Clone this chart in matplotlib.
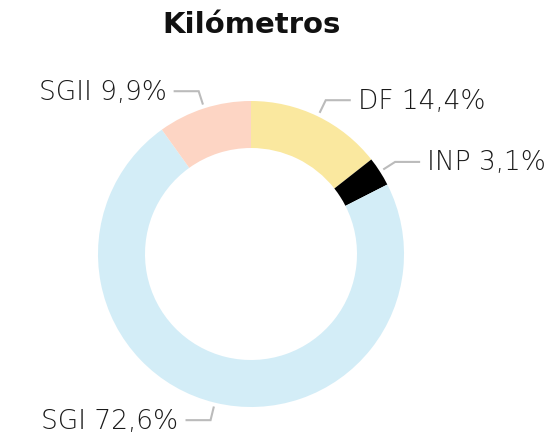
import numpy as np
import matplotlib.pyplot as plt

# Data
labels = ['DF', 'INP', 'SGI', 'SGII']
shares = [14.4, 3.1, 72.6, 9.9]
colors = ['#FAE89F', '#000000', '#D3EDF7', '#FDD5C4']

# Geometry (pixels)
W, H = 553, 439
cx, cy = 251, 255
r_out = 153
ring = 47

fig = plt.figure(figsize=(W / 100, H / 100), dpi=100)
ax = fig.add_axes([0, 0, 1, 1])

ax.pie(shares, colors=colors, startangle=90, counterclock=False,
       center=(cx, H - cy), radius=r_out, frame=True,
       wedgeprops=dict(width=ring, linewidth=0))
ax.set_xlim(0, W)
ax.set_ylim(0, H)
ax.set_aspect('equal')
ax.axis('off')

# Leader lines and labels
start = 0.0
for lab, val in zip(labels, shares):
    mid = 90 - 360 * (start + val / 2) / 100
    start += val
    a = np.deg2rad(mid)
    x0, y0 = cx + 158 * np.cos(a), (H - cy) + 158 * np.sin(a)
    x1, y1 = cx + 171 * np.cos(a), (H - cy) + 171 * np.sin(a)
    side = 1 if np.cos(a) >= 0 else -1
    x2 = x1 + side * 24
    ax.plot([x0, x1, x2], [y0, y1, y1], color='#BBBBBB', lw=1.5,
            solid_joinstyle='miter')
    txt = f"{lab} {val:.1f}%".replace('.', ',')
    ax.text(x2 + side * 8, y1, txt, ha='left' if side > 0 else 'right',
            va='center', fontsize=19, color='#1A1A1A', fontweight='light',
            family='DejaVu Sans')

ax.text(252, H - 25, 'Kilómetros', ha='center', va='center',
        fontsize=21, fontweight='bold', color='#111111', family='DejaVu Sans')

fig.savefig('out.png', dpi=100)
